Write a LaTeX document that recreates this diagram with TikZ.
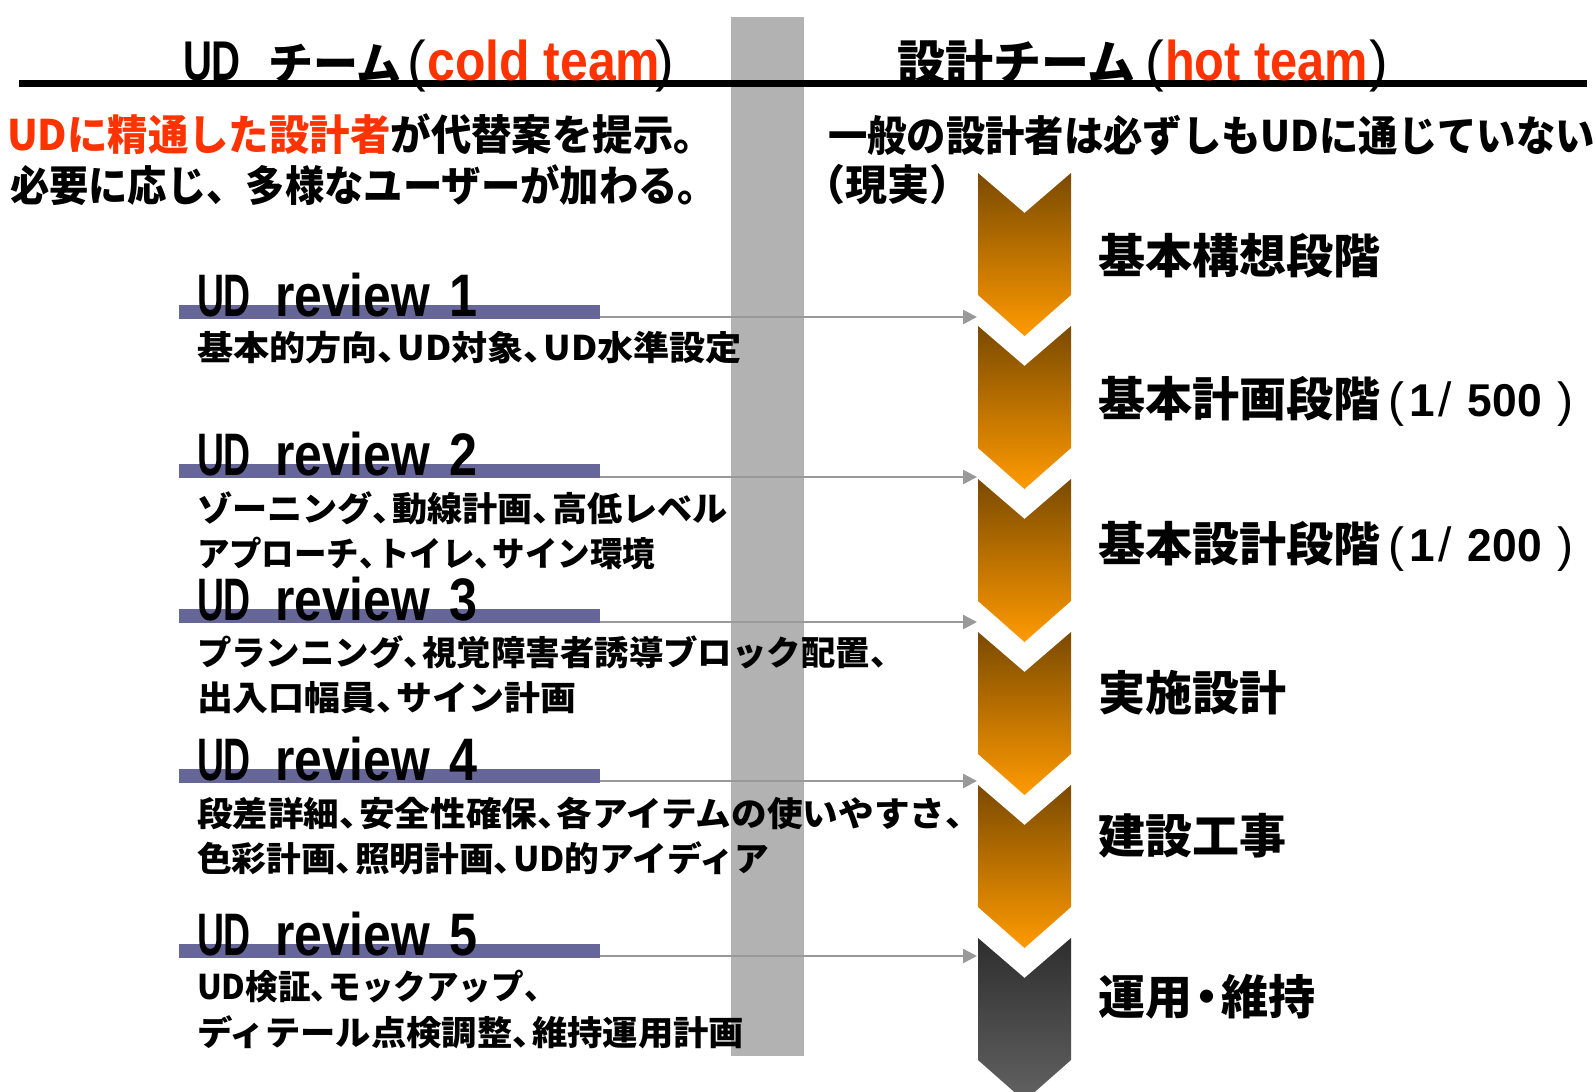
\documentclass[tikz,border=0pt]{standalone}
\usepackage{fontspec}
\usepackage{graphicx}
\usetikzlibrary{arrows.meta}
\newfontfamily\jp{Noto Sans CJK JP}
\newfontfamily\lat{Liberation Sans}
\definecolor{hot}{HTML}{FF3300}
\definecolor{barc}{HTML}{666699}
\definecolor{graybar}{HTML}{B2B2B2}
\definecolor{arrc}{HTML}{999999}
\definecolor{chtop}{HTML}{7A4A00}
\definecolor{chbot}{HTML}{FF9A00}
\definecolor{dktop}{HTML}{2E2E2E}
\definecolor{dkbot}{HTML}{626262}
\newcommand\hfit[2]{\resizebox{#1pt}{\height}{#2}}
\newcommand\tc{\makebox[0.55em][l]{、}}
\tikzset{
  txt/.style={inner sep=0pt, outer sep=0pt, text=black},
  desc/.style={txt, anchor=west, font=\jp\bfseries\fontsize{34}{34}\selectfont},
  sub/.style={txt, anchor=west, font=\jp\bfseries\fontsize{42}{42}\selectfont},
  stage/.style={txt, anchor=west, font=\jp\bfseries\fontsize{47}{47}\selectfont},
  rev/.style={txt, anchor=base west, font=\lat\bfseries\fontsize{60}{60}\selectfont},
  ttl/.style={txt, anchor=base west},
  revbar/.style={fill=barc, draw=none, inner sep=0pt, outer sep=0pt, minimum width=421pt, minimum height=14pt, anchor=north west},
  conn/.style={draw=arrc, line width=2.5pt, -{Triangle[length=14pt,width=14pt]}},
  chev/.style={top color=chtop, bottom color=chbot},
  chevdark/.style={top color=dktop, bottom color=dkbot}
}
\newcommand\parlat[1]{{\lat\mdseries\fontsize{56}{56}\selectfont #1}}
\newcommand\boldlat[1]{{\lat\bfseries\fontsize{56}{56}\selectfont #1}}
\newcommand\sclp[1]{{\lat\mdseries\fontsize{48}{48}\selectfont #1}}
\newcommand\scld[1]{{\lat\bfseries\fontsize{46}{46}\selectfont #1}}
\newcommand\scale[1]{\sclp{(}\kern6pt\scld{1}\kern3pt\sclp{/}\kern16pt\hfit{74}{\scld{#1}}\kern16pt\sclp{)}}
\newcommand\revlabel[1]{\hfit{54}{UD}\hspace{24pt}\hfit{155}{review}\hspace{19pt}\hfit{28}{#1}}
\begin{document}
\begin{tikzpicture}[x=1pt,y=-1pt]
\useasboundingbox (0,0) rectangle (1596,1092);
\fill[white] (0,0) rectangle (1596,1092);
% gray separator
\fill[graybar] (731,17) rectangle (804,1056);
% black rule
\fill[black] (19,80) rectangle (1587,87);
% chevrons
\foreach \t in {173,326,479,632,785}{
  \shade[chev] (978,\t) -- (1024.5,\t+40) -- (1071,\t) -- (1071,\t+122) -- (1024.5,\t+163) -- (978,\t+122) -- cycle;
}
\shade[chevdark] (978,938) -- (1024.5,978) -- (1071,938) -- (1071,1060) -- (1024.5,1101) -- (978,1060) -- cycle;

% titles
\node[ttl] (tl) at (183,80) {\hfit{58}{\boldlat{UD}}\hspace{27pt}{\jp\bfseries\fontsize{45}{45}\selectfont チーム}\hspace{6pt}\parlat{(}\hspace{1pt}\textcolor{hot}{\hfit{233}{\boldlat{cold team}}}\hspace{-5pt}\parlat{)}};
\node[ttl] (tr) at (897,80) {{\jp\bfseries\fontsize{48}{48}\selectfont 設計チーム}\hspace{10pt}\parlat{(}\hspace{1pt}\textcolor{hot}{\hfit{203}{\boldlat{hot team}}}\hspace{1pt}\parlat{)}};

% subtitles
\node[sub] (s1) at (7,134) {\hfit{707}{\textcolor{hot}{UDに精通した設計者}が代替案を提示。}};
\node[sub] (s2) at (10,185) {\hfit{707}{必要に応じ、多様なユーザーが加わる。}};
\node[sub] (s3) at (828,136) {\hfit{767}{一般の設計者は必ずしもUDに通じていない}};
\node[sub] (s4) at (803,185) {（現実）};

% stage labels
\node[stage] (g1) at (1098,256) {基本構想段階};
\node[stage] (g2) at (1098,401) {基本計画段階\kern8pt\scale{500}};
\node[stage] (g3) at (1098,546) {基本設計段階\kern8pt\scale{200}};
\node[stage] (g4) at (1098,693) {実施設計};
\node[stage] (g5) at (1098,836) {建設工事};
\node[stage] (g6) at (1098,997) {運用\makebox[0.62em][c]{・}維持};

% review bars
\node[revbar] (b1) at (179,305) {};
\node[revbar] (b2) at (179,464) {};
\node[revbar] (b3) at (179,609) {};
\node[revbar] (b4) at (179,769) {};
\node[revbar] (b5) at (179,944) {};

% arrow targets
\coordinate (e1) at (977,317);
\coordinate (e2) at (977,477);
\coordinate (e3) at (977,622);
\coordinate (e4) at (977,781);
\coordinate (e5) at (977,956);
\draw[conn] (b1.east |- e1) -- (e1);
\draw[conn] (b2.east |- e2) -- (e2);
\draw[conn] (b3.east |- e3) -- (e3);
\draw[conn] (b4.east |- e4) -- (e4);
\draw[conn] (b5.east |- e5) -- (e5);

% review titles
\node[rev] (r1) at (197,316) {\revlabel{1}};
\node[rev] (r2) at (197,475) {\revlabel{2}};
\node[rev] (r3) at (197,620) {\revlabel{3}};
\node[rev] (r4) at (197,780) {\revlabel{4}};
\node[rev] (r5) at (197,955) {\revlabel{5}};

% descriptions
\node[desc] (d1) at (197,348) {\hfit{545}{基本的方向\tc UD対象\tc UD水準設定}};
\node[desc] (d2a) at (197,508) {\hfit{531}{ゾーニング\tc 動線計画\tc 高低レベル}};
\node[desc] (d2b) at (197,553) {\hfit{458}{アプローチ\tc トイレ\tc サイン環境}};
\node[desc] (d3a) at (197,652) {\hfit{692}{プランニング\tc 視覚障害者誘導ブロック配置\tc}};
\node[desc] (d3b) at (197,698) {\hfit{379}{出入口幅員\tc サイン計画}};
\node[desc] (d4a) at (197,813) {\hfit{768}{段差詳細\tc 安全性確保\tc 各アイテムの使いやすさ\tc}};
\node[desc] (d4b) at (197,858) {\hfit{572}{色彩計画\tc 照明計画\tc UD的アイディア}};
\node[desc] (d5a) at (197,987) {\hfit{345}{UD検証\tc モックアップ\tc}};
\node[desc] (d5b) at (197,1032) {\hfit{547}{ディテール点検調整\tc 維持運用計画}};
\end{tikzpicture}
\end{document}
